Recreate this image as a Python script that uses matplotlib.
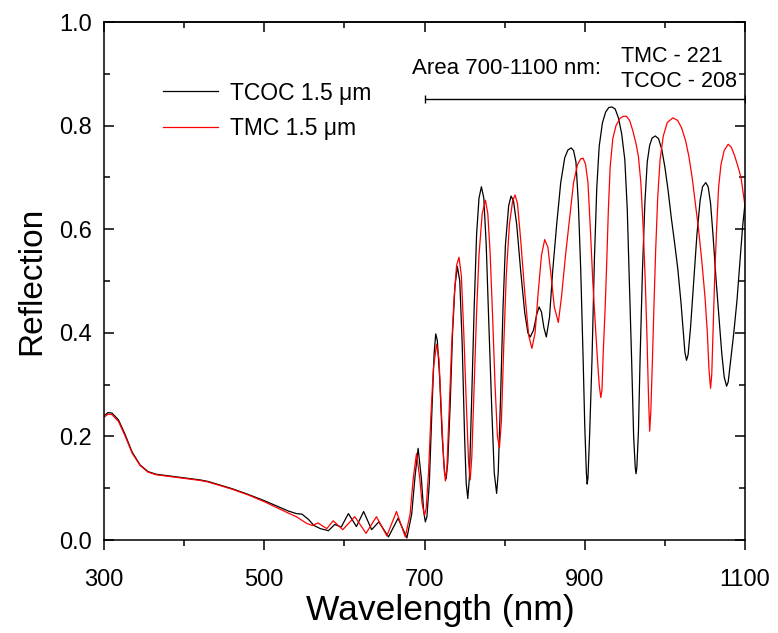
import matplotlib
matplotlib.use("Agg")
import matplotlib.pyplot as plt
from matplotlib.ticker import MultipleLocator

plt.rcParams["font.family"] = ["Liberation Sans", "DejaVu Sans"]

# TCOC 1.5 um (black)
tcoc_wl = [300, 305, 310, 318, 326, 335, 345, 355, 365, 380, 400, 420, 430, 445, 460,
           480, 500, 515, 530, 540, 547, 555, 562, 570, 580, 588, 596, 605, 615, 624,
           634, 643, 655, 667, 678, 684, 688, 692, 696, 699, 701, 703, 706, 709, 712,
           714, 716, 719, 722, 725, 727, 729, 732, 735, 738, 741, 744, 747, 750, 752,
           754, 756, 759, 762, 765, 768, 771, 774, 777, 780, 784, 787, 790, 792, 795,
           798, 801, 805, 808, 811, 815, 820, 825, 829, 832, 836, 840, 843, 846, 849,
           852, 856, 860, 865, 870, 875, 879, 883, 886, 889, 892, 895, 898, 900, 902,
           903, 904, 906, 909, 912, 915, 918, 922, 926, 930, 934, 938, 942, 946, 950,
           953, 956, 958.5, 961, 963, 964, 965, 967, 969, 972, 975, 978, 981, 984, 988,
           992, 996, 1000, 1004, 1008, 1012, 1016, 1020, 1023, 1025, 1027, 1029, 1032, 1036, 1040,
           1044, 1047, 1051, 1054, 1057, 1060, 1064, 1068, 1071, 1074, 1077, 1079, 1082, 1086, 1090,
           1094, 1097, 1100]
tcoc_r = [.240, .246, .245, .232, .205, .170, .145, .132, .127, .124, .120, .116, .113, .106, .099,
          .088, .076, .066, .056, .051, .050, .040, .028, .022, .018, .030, .025, .051, .026, .055,
          .020, .035, .006, .042, .004, .050, .120, .177, .120, .055, .035, .045, .110, .240, .360,
          .398, .385, .310, .200, .130, .118, .150, .260, .400, .490, .528, .500, .380, .200, .110,
          .080, .120, .280, .450, .590, .660, .682, .660, .570, .430, .250, .130, .090, .130, .280,
          .450, .570, .645, .664, .655, .610, .520, .440, .400, .392, .405, .435, .450, .440, .410,
          .392, .430, .520, .610, .690, .738, .753, .757, .752, .730, .650, .520, .347, .220, .130,
          .108, .120, .200, .347, .540, .680, .760, .805, .826, .835, .836, .832, .815, .785, .734,
          .640, .480, .347, .200, .140, .128, .140, .210, .347, .520, .650, .730, .762, .776, .780,
          .775, .755, .720, .675, .622, .575, .525, .460, .400, .362, .347, .358, .410, .500, .590,
          .656, .682, .690, .682, .650, .590, .500, .420, .360, .315, .297, .305, .345, .400, .463,
          .545, .605, .650]

# TMC 1.5 um (red)
tmc_wl = [300, 305, 310, 318, 326, 335, 345, 355, 365, 380, 400, 420, 430, 445, 460,
          480, 500, 515, 530, 540, 553, 560, 567, 578, 586, 598, 613, 627, 640, 653,
          665, 676, 682, 686, 690, 694, 697, 700, 702, 705, 708, 711, 715, 718, 721,
          724, 726, 728, 731, 734, 737, 740, 743, 746, 749, 752, 755, 757, 759, 762,
          765, 768, 772, 776, 779, 782, 785, 788, 791, 793.5, 796, 799, 802, 806, 810,
          813, 816, 820, 825, 830, 834, 838, 842, 846, 850, 854, 858, 862, 867, 871,
          876, 881, 886, 891, 895, 898, 901, 904, 907, 910, 913, 916, 918, 920, 921.5,
          923, 925.5, 927.5, 929.5, 931.7, 935, 939, 944, 948, 952, 956, 960, 964, 967,
          970, 973, 975.5, 977.5, 979.5, 981, 982.5, 984.5, 986.5, 988.5, 991, 994, 998, 1003,
          1010, 1016, 1021, 1026, 1030, 1034, 1038, 1042, 1046, 1050, 1053, 1055, 1057, 1058.5, 1060,
          1062, 1064.5, 1067, 1070, 1074, 1079, 1083, 1087, 1091, 1095, 1100]
tmc_r = [.237, .243, .242, .229, .202, .168, .144, .131, .126, .123, .119, .115, .112, .105, .098,
         .087, .074, .063, .052, .045, .032, .028, .033, .022, .037, .020, .045, .013, .045, .008,
         .055, .006, .050, .120, .167, .120, .070, .048, .060, .130, .240, .330, .378, .350, .250,
         .150, .114, .140, .260, .380, .470, .530, .546, .510, .400, .270, .150, .116, .160, .300,
         .440, .550, .630, .656, .630, .550, .430, .300, .200, .178, .230, .380, .510, .610, .655,
         .666, .650, .580, .480, .395, .370, .400, .480, .550, .580, .565, .510, .450, .420, .470,
         .550, .620, .690, .725, .736, .737, .725, .690, .600, .500, .420, .345, .300, .275, .290,
         .360, .450, .540, .640, .720, .775, .800, .814, .818, .818, .810, .790, .765, .740,
         .690, .600, .500, .400, .280, .210, .250, .350, .460, .560, .660, .734, .780, .806,
         .815, .810, .795, .770, .740, .700, .650, .600, .540, .470, .400, .330, .293, .320, .400,
         .500, .600, .680, .725, .752, .764, .758, .742, .722, .700, .645]

fig = plt.figure(figsize=(7.78, 6.33), dpi=100)
ax = fig.add_axes([0.1337, 0.1469, 0.8239, 0.8183])

ax.plot(tcoc_wl, tcoc_r, color="black", lw=0.9, label="TCOC 1.5 \u03bcm")
ax.plot(tmc_wl, tmc_r, color="#ff0000", lw=0.9, label="TMC 1.5 \u03bcm")

ax.set_xlim(300, 1100)
ax.set_ylim(0, 1.0)
ax.xaxis.set_major_locator(MultipleLocator(200, offset=100))
ax.xaxis.set_minor_locator(MultipleLocator(100))
ax.yaxis.set_major_locator(MultipleLocator(0.2))
ax.yaxis.set_minor_locator(MultipleLocator(0.1))
ax.yaxis.set_major_formatter(lambda v, p: f"{v:.1f}")

for s in ax.spines.values():
    s.set_linewidth(1.1)
ax.tick_params(axis="x", which="both", direction="out", top=False, labelsize=17, pad=14, width=1.1)
ax.tick_params(axis="x", which="major", length=7)
ax.tick_params(axis="x", which="minor", length=4)
ax.tick_params(axis="y", which="both", direction="in", right=True, labelsize=17, pad=9, width=1.1)
ax.tick_params(axis="y", which="major", length=7)
ax.tick_params(axis="y", which="minor", length=4)

# inward ticks along the top edge
top = ax.secondary_xaxis("top")
top.xaxis.set_major_locator(MultipleLocator(200, offset=100))
top.xaxis.set_minor_locator(MultipleLocator(100))
top.tick_params(which="both", direction="in", labeltop=False, width=1.1)
top.tick_params(which="major", length=7)
top.tick_params(which="minor", length=4)
top.spines["top"].set_linewidth(1.1)

ax.set_xlabel("Wavelength (nm)", fontsize=25.5)
ax.xaxis.set_label_coords(0.524, -0.104)
ax.set_ylabel("Reflection", fontsize=24, labelpad=8)

ax.legend(loc="upper left", bbox_to_anchor=(0.06, 0.925), frameon=False, fontsize=16.5,
          handlelength=2.4, handletextpad=0.5, labelspacing=0.55)

# area bracket 700-1100 nm
ax.errorbar([900], [0.851], xerr=[[200], [200]], color="black", lw=1.0, capsize=3, capthick=1.0)
ax.text(920, 0.911, "Area 700-1100 nm:", fontsize=16, ha="right", va="center")
ax.text(945, 0.933, "TMC - 221", fontsize=15.5, ha="left", va="center")
ax.text(945, 0.885, "TCOC - 208", fontsize=15.5, ha="left", va="center")

fig.savefig("out.png", dpi=100)
